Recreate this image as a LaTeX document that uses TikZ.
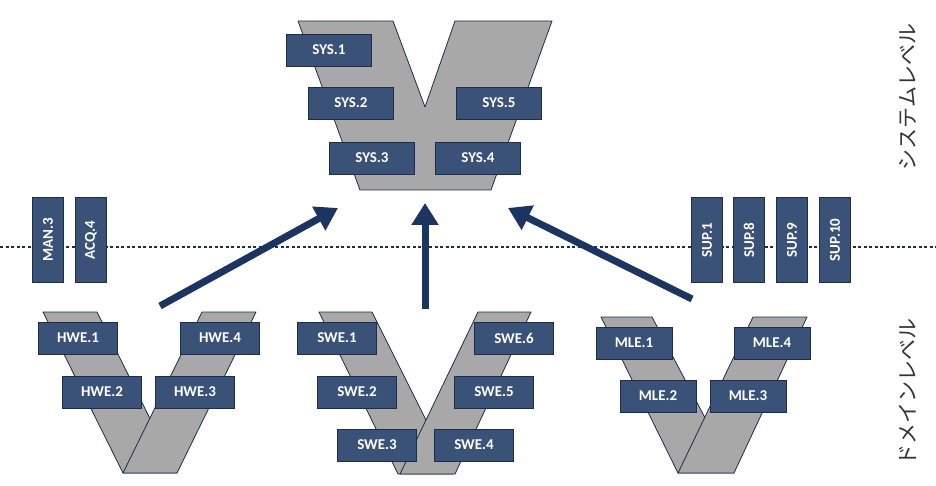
\documentclass[tikz,border=0pt]{standalone}
\usepackage{fontspec}
\setmainfont{Carlito}
\newfontfamily\cjk{Noto Sans CJK JP}[Scale=1]
\usetikzlibrary{arrows.meta}
\definecolor{boxblue}{HTML}{3A5278}
\definecolor{edge}{HTML}{1C2E4A}
\definecolor{vgray}{HTML}{A8A8A8}
\definecolor{arr}{HTML}{1B3560}
\begin{document}
\begin{tikzpicture}[x=1pt,y=-1pt,
  box/.style={draw=edge,line width=0.8pt,fill=boxblue,text=white,font=\bfseries\fontsize{15}{15}\selectfont,minimum height=32pt,inner sep=0pt},
  vbox/.style={box,minimum width=85pt,minimum height=31pt,rotate=90},
  vs/.style={draw=edge,line width=0.8pt,fill=vgray,line join=round},
  bigarr/.style={draw=arr,line width=7pt,-{Triangle[length=22pt,width=26pt]}},
  lvl/.style={font=\cjk\fontsize{21}{21}\selectfont,rotate=90,text=black!80}]
\useasboundingbox (0,0) rectangle (936,486);
% level line
\draw[edge,line width=1.6pt,dash pattern=on 3pt off 2.5pt] (0,247) -- (936,247);
% SYS Y shape
\draw[vs] (298,21) -- (393,21) -- (425,107) -- (455,21) -- (552,21) -- (491,190) -- (360,190) -- cycle;
% HWE V
\draw[vs] (43,312) -- (97,312) -- (177,473) -- (123,473) -- cycle;
\draw[vs] (202,312) -- (256,312) -- (177,473) -- (123,473) -- cycle;
% SWE V
\draw[vs] (319,312) -- (372,312) -- (453,474) -- (398,474) -- cycle;
\draw[vs] (478,312) -- (531,312) -- (455,474) -- (400,474) -- cycle;
% MLE V
\draw[vs] (601,317) -- (652,317) -- (734,473) -- (678,473) -- cycle;
\draw[vs] (753,317) -- (807,317) -- (734,473) -- (678,473) -- cycle;
% SYS boxes
\begin{scope}[every node/.append style={box,minimum width=85pt}]
\node (s1) at (329,50) {SYS.1};
\node (s2) at (351,103) {SYS.2};
\node (s5) at (499,103) {SYS.5};
\node (s3) at (372,158) {SYS.3};
\node (s4) at (478,158) {SYS.4};
\end{scope}
\begin{scope}[every node/.append style={box,minimum width=79pt}]
\node (h1) at (78,338) {HWE.1};
\node (h4) at (220,338) {HWE.4};
\node (h2) at (102,392) {HWE.2};
\node (h3) at (195,392) {HWE.3};
\node (w1) at (337,338) {SWE.1};
\node (w6) at (514,338) {SWE.6};
\node (w2) at (357,392) {SWE.2};
\node (w5) at (494,392) {SWE.5};
\node (w3) at (377,445) {SWE.3};
\node (w4) at (474,445) {SWE.4};
\end{scope}
\begin{scope}[every node/.append style={box,minimum width=76pt}]
\node (m1) at (634,343) {MLE.1};
\node (m4) at (772,343) {MLE.4};
\node (m2) at (658,396) {MLE.2};
\node (m3) at (748,396) {MLE.3};
\end{scope}
% vertical boxes
\node[vbox] (man) at (48,240) {MAN.3};
\node[vbox] (acq) at (91,240) {ACQ.4};
\node[vbox] (p1) at (707,240) {SUP.1};
\node[vbox] (p8) at (749,240) {SUP.8};
\node[vbox] (p9) at (792,240) {SUP.9};
\node[vbox] (p10) at (835,240) {SUP.10};
% arrows
\coordinate (a1s) at (160,306); \coordinate (a1e) at (338,208);
\coordinate (a2s) at (425,309); \coordinate (a2e) at (425,203);
\coordinate (a3s) at (692,299); \coordinate (a3e) at (508,208);
\draw[bigarr] (a1s) -- (a1e);
\draw[bigarr] (a2s) -- (a2e);
\draw[bigarr] (a3s) -- (a3e);
% level labels
\node[lvl] (sl) at (908,97) {システムレベル};
\node[lvl] (dl) at (908,392) {ドメインレベル};
\end{tikzpicture}
\end{document}
